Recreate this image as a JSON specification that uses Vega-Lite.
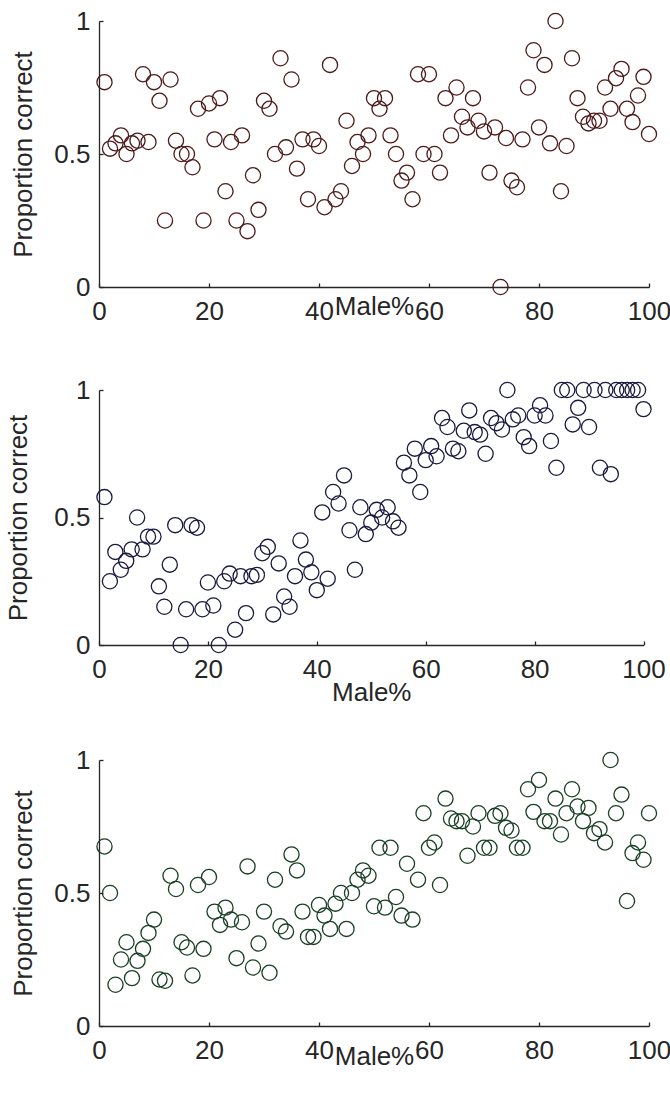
{
  "$schema": "https://vega.github.io/schema/vega-lite/v6.json",
  "autosize": {"type": "pad"},
  "padding": {"left": 5, "top": 8, "right": 0, "bottom": 0},
  "background": "white",
  "config": {
    "font": "Liberation Sans",
    "view": {"stroke": null},
    "axis": {
      "grid": false,
      "domain": true,
      "domainColor": "#262626",
      "domainWidth": 1.3,
      "ticks": true,
      "tickColor": "#262626",
      "tickWidth": 1.3,
      "tickSize": -4,
      "labelColor": "#262626",
      "titleColor": "#262626",
      "labelFontSize": 26,
      "titleFontSize": 26,
      "titleFontWeight": "normal",
      "labelFlush": false,
      "labelOverlap": false
    }
  },
  "datasets": {
    "p1": [
      {"x":1,"y":0.77},{"x":2,"y":0.52},{"x":3,"y":0.54},{"x":4,"y":0.57},{"x":5,"y":0.5},{"x":6,"y":0.54},{"x":7,"y":0.55},{"x":8,"y":0.8},{"x":9,"y":0.545},{"x":10,"y":0.77},
      {"x":11,"y":0.7},{"x":12,"y":0.25},{"x":13,"y":0.78},{"x":14,"y":0.55},{"x":15,"y":0.5},{"x":16,"y":0.5},{"x":17,"y":0.45},{"x":18,"y":0.67},{"x":19,"y":0.25},{"x":20,"y":0.69},
      {"x":21,"y":0.555},{"x":22,"y":0.71},{"x":23,"y":0.36},{"x":24,"y":0.545},{"x":25,"y":0.25},{"x":26,"y":0.57},{"x":27,"y":0.21},{"x":28,"y":0.42},{"x":29,"y":0.29},{"x":30,"y":0.7},
      {"x":31,"y":0.67},{"x":32,"y":0.5},{"x":33,"y":0.86},{"x":34,"y":0.525},{"x":35,"y":0.78},{"x":36,"y":0.445},{"x":37,"y":0.555},{"x":38,"y":0.33},{"x":39,"y":0.555},{"x":40,"y":0.53},
      {"x":41,"y":0.3},{"x":42,"y":0.835},{"x":43,"y":0.33},{"x":44,"y":0.36},{"x":45,"y":0.625},{"x":46,"y":0.455},{"x":47,"y":0.545},{"x":48,"y":0.5},{"x":49,"y":0.57},{"x":50,"y":0.71},
      {"x":51,"y":0.67},{"x":52,"y":0.71},{"x":53,"y":0.57},{"x":54,"y":0.5},{"x":55,"y":0.4},{"x":56,"y":0.43},{"x":57,"y":0.33},{"x":58,"y":0.8},{"x":59,"y":0.5},{"x":60,"y":0.8},
      {"x":61,"y":0.5},{"x":62,"y":0.43},{"x":63,"y":0.71},{"x":64,"y":0.57},{"x":65,"y":0.75},{"x":66,"y":0.64},{"x":67,"y":0.6},{"x":68,"y":0.71},{"x":69,"y":0.625},{"x":70,"y":0.585},
      {"x":71,"y":0.43},{"x":72,"y":0.6},{"x":73,"y":0.0},{"x":74,"y":0.56},{"x":75,"y":0.4},{"x":76,"y":0.375},{"x":77,"y":0.555},{"x":78,"y":0.75},{"x":79,"y":0.89},{"x":80,"y":0.6},
      {"x":81,"y":0.835},{"x":82,"y":0.54},{"x":83,"y":1.0},{"x":84,"y":0.36},{"x":85,"y":0.53},{"x":86,"y":0.86},{"x":87,"y":0.71},{"x":88,"y":0.64},{"x":89,"y":0.615},{"x":90,"y":0.625},
      {"x":91,"y":0.625},{"x":92,"y":0.75},{"x":93,"y":0.67},{"x":94,"y":0.785},{"x":95,"y":0.82},{"x":96,"y":0.67},{"x":97,"y":0.62},{"x":98,"y":0.72},{"x":99,"y":0.79},{"x":100,"y":0.575}
    ],
    "p2": [
      {"x":1,"y":0.58},{"x":2,"y":0.25},{"x":3,"y":0.365},{"x":4,"y":0.295},{"x":5,"y":0.33},{"x":6,"y":0.375},{"x":7,"y":0.5},{"x":8,"y":0.375},{"x":9,"y":0.425},{"x":10,"y":0.425},
      {"x":11,"y":0.23},{"x":12,"y":0.15},{"x":13,"y":0.315},{"x":14,"y":0.47},{"x":15,"y":0.0},{"x":16,"y":0.14},{"x":17,"y":0.47},{"x":18,"y":0.46},{"x":19,"y":0.14},{"x":20,"y":0.245},
      {"x":21,"y":0.155},{"x":22,"y":0.0},{"x":23,"y":0.25},{"x":24,"y":0.28},{"x":25,"y":0.06},{"x":26,"y":0.27},{"x":27,"y":0.125},{"x":28,"y":0.27},{"x":29,"y":0.275},{"x":30,"y":0.36},
      {"x":31,"y":0.385},{"x":32,"y":0.12},{"x":33,"y":0.32},{"x":34,"y":0.19},{"x":35,"y":0.15},{"x":36,"y":0.27},{"x":37,"y":0.41},{"x":38,"y":0.335},{"x":39,"y":0.285},{"x":40,"y":0.215},
      {"x":41,"y":0.52},{"x":42,"y":0.26},{"x":43,"y":0.6},{"x":44,"y":0.555},{"x":45,"y":0.665},{"x":46,"y":0.45},{"x":47,"y":0.295},{"x":48,"y":0.54},{"x":49,"y":0.435},{"x":50,"y":0.48},
      {"x":51,"y":0.53},{"x":52,"y":0.5},{"x":53,"y":0.54},{"x":54,"y":0.485},{"x":55,"y":0.46},{"x":56,"y":0.715},{"x":57,"y":0.665},{"x":58,"y":0.77},{"x":59,"y":0.6},{"x":60,"y":0.725},
      {"x":61,"y":0.78},{"x":62,"y":0.74},{"x":63,"y":0.89},{"x":64,"y":0.855},{"x":65,"y":0.77},{"x":66,"y":0.76},{"x":67,"y":0.84},{"x":68,"y":0.92},{"x":69,"y":0.835},{"x":70,"y":0.825},
      {"x":71,"y":0.75},{"x":72,"y":0.89},{"x":73,"y":0.87},{"x":74,"y":0.845},{"x":75,"y":1.0},{"x":76,"y":0.885},{"x":77,"y":0.9},{"x":78,"y":0.815},{"x":79,"y":0.78},{"x":80,"y":0.9},
      {"x":81,"y":0.94},{"x":82,"y":0.9},{"x":83,"y":0.8},{"x":84,"y":0.695},{"x":85,"y":1.0},{"x":86,"y":1.0},{"x":87,"y":0.865},{"x":88,"y":0.93},{"x":89,"y":1.0},{"x":90,"y":0.855},
      {"x":91,"y":1.0},{"x":92,"y":0.695},{"x":93,"y":1.0},{"x":94,"y":0.67},{"x":95,"y":1.0},{"x":96,"y":1.0},{"x":97,"y":1.0},{"x":98,"y":1.0},{"x":99,"y":1.0},{"x":100,"y":0.925}
    ],
    "p3": [
      {"x":1,"y":0.675},{"x":2,"y":0.5},{"x":3,"y":0.155},{"x":4,"y":0.25},{"x":5,"y":0.315},{"x":6,"y":0.18},{"x":7,"y":0.245},{"x":8,"y":0.29},{"x":9,"y":0.35},{"x":10,"y":0.4},
      {"x":11,"y":0.175},{"x":12,"y":0.17},{"x":13,"y":0.565},{"x":14,"y":0.515},{"x":15,"y":0.315},{"x":16,"y":0.295},{"x":17,"y":0.19},{"x":18,"y":0.53},{"x":19,"y":0.29},{"x":20,"y":0.56},
      {"x":21,"y":0.43},{"x":22,"y":0.38},{"x":23,"y":0.445},{"x":24,"y":0.4},{"x":25,"y":0.255},{"x":26,"y":0.39},{"x":27,"y":0.6},{"x":28,"y":0.22},{"x":29,"y":0.31},{"x":30,"y":0.43},
      {"x":31,"y":0.2},{"x":32,"y":0.55},{"x":33,"y":0.375},{"x":34,"y":0.355},{"x":35,"y":0.645},{"x":36,"y":0.585},{"x":37,"y":0.43},{"x":38,"y":0.335},{"x":39,"y":0.335},{"x":40,"y":0.455},
      {"x":41,"y":0.415},{"x":42,"y":0.365},{"x":43,"y":0.46},{"x":44,"y":0.5},{"x":45,"y":0.365},{"x":46,"y":0.5},{"x":47,"y":0.55},{"x":48,"y":0.585},{"x":49,"y":0.565},{"x":50,"y":0.45},
      {"x":51,"y":0.67},{"x":52,"y":0.445},{"x":53,"y":0.67},{"x":54,"y":0.485},{"x":55,"y":0.415},{"x":56,"y":0.61},{"x":57,"y":0.4},{"x":58,"y":0.55},{"x":59,"y":0.8},{"x":60,"y":0.67},
      {"x":61,"y":0.69},{"x":62,"y":0.53},{"x":63,"y":0.855},{"x":64,"y":0.78},{"x":65,"y":0.77},{"x":66,"y":0.77},{"x":67,"y":0.64},{"x":68,"y":0.75},{"x":69,"y":0.8},{"x":70,"y":0.67},
      {"x":71,"y":0.67},{"x":72,"y":0.79},{"x":73,"y":0.8},{"x":74,"y":0.745},{"x":75,"y":0.735},{"x":76,"y":0.67},{"x":77,"y":0.67},{"x":78,"y":0.89},{"x":79,"y":0.805},{"x":80,"y":0.925},
      {"x":81,"y":0.77},{"x":82,"y":0.77},{"x":83,"y":0.855},{"x":84,"y":0.72},{"x":85,"y":0.8},{"x":86,"y":0.89},{"x":87,"y":0.825},{"x":88,"y":0.77},{"x":89,"y":0.82},{"x":90,"y":0.725},
      {"x":91,"y":0.74},{"x":92,"y":0.69},{"x":93,"y":1.0},{"x":94,"y":0.8},{"x":95,"y":0.87},{"x":96,"y":0.47},{"x":97,"y":0.65},{"x":98,"y":0.69},{"x":99,"y":0.625},{"x":100,"y":0.8}
    ]
  },
  "spacing": 53,
  "vconcat": [
    {
      "width": 550,
      "height": 266,
      "data": {"name": "p1"},
      "mark": {"type": "point", "shape": "circle", "filled": false, "size": 230, "strokeWidth": 1.3, "color": "#4d1a1a", "opacity": 1, "clip": false},
      "encoding": {
        "x": {"field": "x", "type": "quantitative", "scale": {"domain": [0, 100], "nice": false, "zero": false},
              "axis": {"title": "Male%", "values": [0, 20, 40, 60, 80, 100], "format": "d", "labelPadding": 15, "titleBaseline": "alphabetic", "titleY": 27}},
        "y": {"field": "y", "type": "quantitative", "scale": {"domain": [0, 1], "nice": false},
              "axis": {"title": "Proportion correct", "values": [0, 0.5, 1], "format": "~g", "labelPadding": 13, "titlePadding": 17}}
      }
    },
    {
      "spacing": 42,
      "vconcat": [
        {
          "width": 544.5,
          "height": 255,
          "data": {"name": "p2"},
          "mark": {"type": "point", "shape": "circle", "filled": false, "size": 230, "strokeWidth": 1.3, "color": "#1a1a40", "opacity": 1, "clip": false},
          "encoding": {
            "x": {"field": "x", "type": "quantitative", "scale": {"domain": [0, 100], "nice": false, "zero": false},
                  "axis": {"title": "Male%", "values": [0, 20, 40, 60, 80, 100], "format": "d", "labelPadding": 15, "titleBaseline": "alphabetic", "titleY": 55}},
            "y": {"field": "y", "type": "quantitative", "scale": {"domain": [0, 1], "nice": false},
                  "axis": {"title": "Proportion correct", "values": [0, 0.5, 1], "format": "~g", "labelPadding": 13, "titlePadding": 22.5}}
          }
        },
        {
          "width": 550,
          "height": 266,
          "data": {"name": "p3"},
          "mark": {"type": "point", "shape": "circle", "filled": false, "size": 230, "strokeWidth": 1.3, "color": "#1a4026", "opacity": 1, "clip": false},
          "encoding": {
            "x": {"field": "x", "type": "quantitative", "scale": {"domain": [0, 100], "nice": false, "zero": false},
                  "axis": {"title": "Male%", "values": [0, 20, 40, 60, 80, 100], "format": "d", "labelPadding": 15, "titleBaseline": "alphabetic", "titleY": 38}},
            "y": {"field": "y", "type": "quantitative", "scale": {"domain": [0, 1], "nice": false},
                  "axis": {"title": "Proportion correct", "values": [0, 0.5, 1], "format": "~g", "labelPadding": 13, "titlePadding": 17}}
          }
        }
      ]
    }
  ]
}
